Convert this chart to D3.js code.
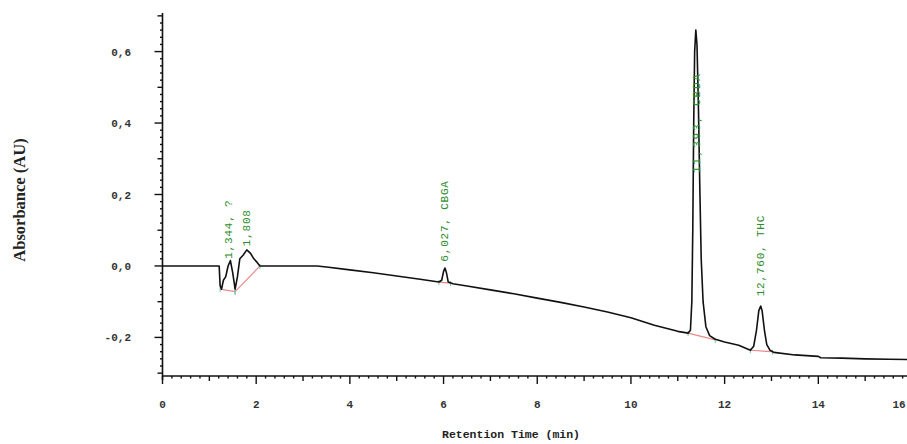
<!DOCTYPE html>
<html><head><meta charset="utf-8">
<script src="https://cdn.jsdelivr.net/npm/d3@7"></script>
<style>body{margin:0;background:#fff}svg{display:block}</style>
</head><body><svg id="c" width="907" height="444"></svg>
<script>
// retention time (min) and absorbance (AU)
const times = [0,1.0,1.18,1.21,1.23,1.26,1.3,1.35,1.4,1.45,1.5,1.55,1.6,1.65,1.72,1.8,1.88,1.95,2.02,2.08,2.5,3.0,3.3,3.5,4.0,4.5,5.0,5.5,5.9,5.96,6.0,6.03,6.06,6.1,6.2,6.5,7.0,7.5,8.0,8.5,9.0,9.5,10.0,10.5,11.0,11.22,11.27,11.30,11.32,11.34,11.36,11.385,11.41,11.44,11.47,11.50,11.54,11.6,11.68,11.8,12.0,12.3,12.55,12.62,12.68,12.73,12.77,12.8,12.85,12.9,12.97,13.05,13.5,14.0,14.05,14.5,15.0,15.5,16.0];
const absorb = [0,0,0,0,-0.055,-0.065,-0.04,-0.03,0.0,0.015,-0.02,-0.065,-0.03,0.02,0.03,0.045,0.035,0.02,0.01,0,0,0,0,-0.003,-0.011,-0.019,-0.028,-0.037,-0.045,-0.04,-0.015,-0.006,-0.018,-0.045,-0.05,-0.056,-0.067,-0.078,-0.09,-0.102,-0.115,-0.129,-0.145,-0.166,-0.183,-0.188,-0.18,-0.1,0.1,0.4,0.6,0.66,0.62,0.45,0.22,0.02,-0.1,-0.17,-0.195,-0.205,-0.213,-0.222,-0.236,-0.225,-0.18,-0.125,-0.112,-0.125,-0.18,-0.22,-0.236,-0.242,-0.249,-0.253,-0.257,-0.258,-0.26,-0.261,-0.262];

// peak labels
const peakTimes = [1.40, 1.80, 6.027, 11.393, 12.760];
const peakLabelValues = [0.02, 0.055, 0.012, 0.26, -0.085];
const peakLabels = ["1,344, ?", "1,808", "6,027, CBGA", "11,393, CBDA", "12,760, THC"];

// integration baselines (start time, start value, end time, end value)
const intStartT = [1.23, 1.55, 5.9, 11.22, 12.55];
const intStartV = [-0.065, -0.072, -0.045, -0.188, -0.236];
const intEndT   = [1.55, 2.08, 6.15, 11.8, 13.02];
const intEndV   = [-0.072, 0.0, -0.048, -0.207, -0.24];

const xTicks = [0,2,4,6,8,10,12,14,16];
const yTicks = [-0.2,0,0.2,0.4,0.6];
const yTickLabels = ["-0,2","0,0","0,2","0,4","0,6"];

const svg = d3.select("#c");
const x = d3.scaleLinear().domain([0,16]).range([162.5, 912]);
const y = d3.scaleLinear().domain([-0.308,0.708]).range([376,13]);

// axes
const mono = "'Liberation Mono','DejaVu Sans Mono',monospace";
const axisG = svg.append("g");
axisG.append("line").attr("x1",x(0)).attr("x2",x(16)+2).attr("y1",376).attr("y2",376).attr("stroke","#111").attr("stroke-width",1.6);
axisG.append("line").attr("x1",x(0)).attr("x2",x(0)).attr("y1",13).attr("y2",380).attr("stroke","#111").attr("stroke-width",1.6);

// x ticks: major 2, medium 1, minor 0.2
const xMinor = d3.range(0,16.001,0.2);
xMinor.forEach(t=>{
  const r = Math.round(t*5);
  let len = 2.5;
  if (r%10===0) len = 8; else if (r%5===0) len = 5;
  axisG.append("line").attr("x1",x(t)).attr("x2",x(t)).attr("y1",376).attr("y2",376+len).attr("stroke","#111").attr("stroke-width",1.4);
});
axisG.selectAll("text.xt").data(xTicks).join("text").attr("class","xt")
  .attr("x",d=>Math.min(x(d),899)).attr("y",408).attr("text-anchor","middle")
  .attr("font-family",mono).attr("font-weight","bold").attr("font-size",11).attr("fill","#333").text(d=>d);

// y ticks: major 0.2, medium 0.1, minor 0.02
const yMinor = d3.range(-0.30,0.7001,0.02);
yMinor.forEach(v=>{
  const r = Math.round(v*50);
  let len = 2.5;
  if (r%10===0) len = 8; else if (r%5===0) len = 5;
  axisG.append("line").attr("x1",x(0)).attr("x2",x(0)-len).attr("y1",y(v)).attr("y2",y(v)).attr("stroke","#111").attr("stroke-width",1.4);
});
axisG.selectAll("text.yt").data(yTicks).join("text").attr("class","yt")
  .attr("x",131).attr("y",d=>y(d)+4).attr("text-anchor","end")
  .attr("font-family",mono).attr("font-weight","bold").attr("font-size",11).attr("fill","#333")
  .text((d,i)=>yTickLabels[i]);

// axis titles
svg.append("text").attr("x",511).attr("y",438).attr("text-anchor","middle")
  .attr("font-family",mono).attr("font-weight","bold").attr("font-size",11.5).attr("fill","#222")
  .text("Retention Time (min)");
svg.append("text").attr("transform","translate(25,200) rotate(-90)").attr("text-anchor","middle")
  .attr("font-family","'Liberation Serif','DejaVu Serif',serif").attr("font-weight","bold").attr("font-size",16.5).attr("fill","#222")
  .text("Absorbance (AU)");

// integration baselines
intStartT.forEach((t,i)=>{
  svg.append("line").attr("x1",x(t)).attr("y1",y(intStartV[i])).attr("x2",x(intEndT[i])).attr("y2",y(intEndV[i]))
    .attr("stroke","#e88a8a").attr("stroke-width",1.2);
  [[t,intStartV[i]],[intEndT[i],intEndV[i]]].forEach(p=>{
    svg.append("line").attr("x1",x(p[0])).attr("x2",x(p[0])).attr("y1",y(p[1])-2).attr("y2",y(p[1])+3)
      .attr("stroke","#6cc4a8").attr("stroke-width",1);
  });
});

// chromatogram
const line = d3.line().x((d,i)=>x(times[i])).y(d=>y(d));
svg.append("path").attr("d",line(absorb)).attr("fill","none").attr("stroke","#111").attr("stroke-width",1.6).attr("stroke-linejoin","round");

// peak labels
peakTimes.forEach((t,i)=>{
  svg.append("text").attr("transform",`translate(${x(t)+3.5},${y(peakLabelValues[i])}) rotate(-90)`)
    .attr("font-family",mono).attr("font-size",11).attr("letter-spacing",i===3?1.8:0.8).attr("fill","#2e8b2e")
    .text(peakLabels[i]);
});
</script></body></html>
